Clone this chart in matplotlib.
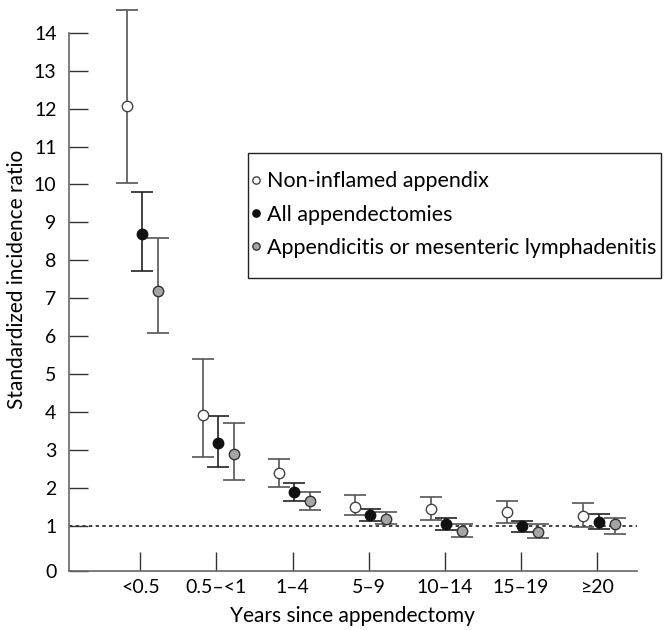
import matplotlib
matplotlib.use("Agg")
import matplotlib.pyplot as plt
from matplotlib.patches import Rectangle
import numpy as np

# --- data ---
categories = ["<0.5", "0.5\u2013<1", "1\u20134", "5\u20139", "10\u201314", "15\u201319", "\u226520"]

non_inflamed     = [12.07, 3.92, 2.40, 1.51, 1.45, 1.36, 1.25]
non_inflamed_lo  = [10.04, 2.82, 2.02, 1.30, 1.15, 1.07, 0.96]
non_inflamed_hi  = [14.60, 5.40, 2.77, 1.82, 1.76, 1.67, 1.61]

all_app          = [8.69, 3.19, 1.89, 1.29, 1.05, 0.99, 1.11]
all_app_lo       = [7.72, 2.56, 1.65, 1.12, 0.89, 0.85, 0.92]
all_app_hi       = [9.80, 3.90, 2.13, 1.46, 1.22, 1.13, 1.31]

appendicitis     = [7.19, 2.89, 1.66, 1.18, 0.88, 0.84, 1.04]
appendicitis_lo  = [6.09, 2.20, 1.43, 1.04, 0.72, 0.67, 0.80]
appendicitis_hi  = [8.59, 3.72, 1.89, 1.36, 1.05, 1.05, 1.22]

labels = ["Non-inflamed appendix", "All appendectomies",
          "Appendicitis or mesenteric lymphadenitis"]

plt.rcParams['font.family'] = ['Lato', 'DejaVu Sans']
plt.rcParams['xtick.direction'] = 'in'
plt.rcParams['ytick.direction'] = 'in'

fig = plt.figure(figsize=(6.65, 6.3), dpi=100)
ax = fig.add_axes([0.1038, 0.0937, 0.8536, 0.8544])

x = np.arange(len(categories))
series = [
    (non_inflamed, non_inflamed_lo, non_inflamed_hi, -0.18, 'white', '#444444', '#555555'),
    (all_app, all_app_lo, all_app_hi, 0.02, '#111111', '#111111', '#222222'),
    (appendicitis, appendicitis_lo, appendicitis_hi, 0.23, '#a5a5a5', '#333333', '#555555'),
]

handles = []
for (vals, lo, hi, off, fc, ec, bc), lab in zip(series, labels):
    vals = np.array(vals)
    err = [vals - np.array(lo), np.array(hi) - vals]
    eb = ax.errorbar(x + off, vals, yerr=err, fmt='none', ecolor=bc,
                     elinewidth=1.2, capsize=8, capthick=1.2, zorder=2)
    for art in eb.lines[1] + eb.lines[2]:
        art.set_clip_on(False)
    h = ax.plot(x + off, vals, 'o', ms=7.5, mfc=fc, mec=ec, mew=1.0,
                linestyle='none', zorder=3, label=lab)[0]
    handles.append(h)

# reference line SIR = 1
ax.axhline(1.0, color='#222222', lw=1.2, ls=(0, (2.0, 2.0)), zorder=1)

ax.set_xlim(-0.937, 6.52)
ax.set_ylim(-0.186, 14)
ax.set_xticks(x)
ax.set_xticklabels(categories, fontsize=14)
ax.set_yticks([-0.186] + list(range(1, 15)))
ax.set_yticklabels([str(i) for i in range(0, 15)], fontsize=14)
ax.tick_params(axis='both', length=14, width=1.0, color='#333333', pad=6)
ax.tick_params(axis='y', pad=9)

for s in ['top', 'right']:
    ax.spines[s].set_visible(False)
for s in ['left', 'bottom']:
    ax.spines[s].set_color('#666666')
    ax.spines[s].set_linewidth(1.2)

ax.set_xlabel("Years since appendectomy", fontsize=15, labelpad=7)
ax.set_ylabel("Standardized incidence ratio", fontsize=15, labelpad=5, y=0.542)

# legend frame drawn separately, legend itself without frame
box = Rectangle((0.315, 0.544), 0.728, 0.232, transform=ax.transAxes,
                facecolor='white', edgecolor='#222222', lw=1.0,
                clip_on=False, zorder=4)
ax.add_patch(box)
leg = ax.legend(handles=handles, loc='upper left',
                bbox_to_anchor=(0.3257, 0.7427),
                fontsize=15.5, markerscale=0.7,
                handlelength=0.2, handletextpad=0.4, labelspacing=0.62,
                borderpad=0.0, borderaxespad=0.0, frameon=False)
leg.set_zorder(5)

fig.savefig("out.png", dpi=100)
